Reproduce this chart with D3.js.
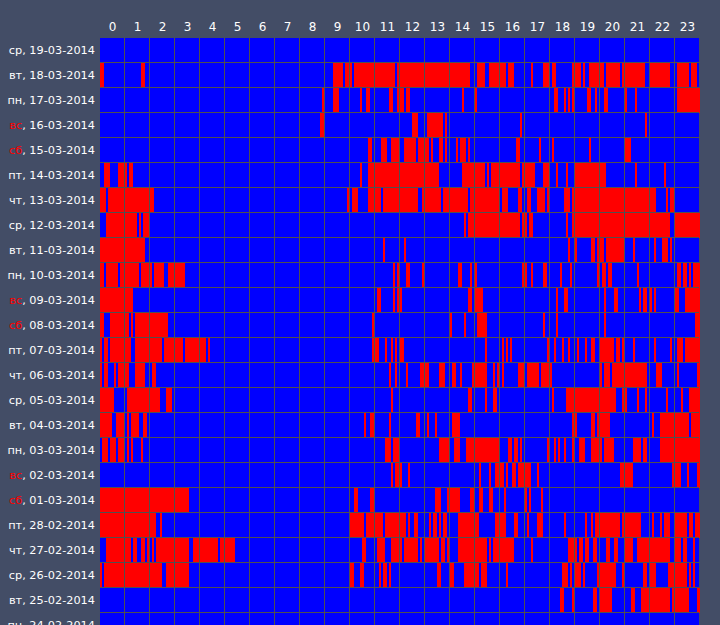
<!DOCTYPE html>
<html lang="ru">
<head>
<meta charset="utf-8">
<title>Activity</title>
<script src="https://cdn.jsdelivr.net/npm/d3@7/dist/d3.min.js"></script>
<style>
  html, body { margin: 0; padding: 0; background: #434d66; overflow: hidden; }
  text { fill: #fff; }
</style>
</head>
<body>
<script>
var hours = d3.range(24);

var weekdays = ["ср","вт","пн","вс","сб","пт","чт","ср","вт","пн","вс","сб","пт","чт","ср","вт","пн","вс","сб","пт","чт","ср","вт","пн"];
var dates = ["19-03-2014","18-03-2014","17-03-2014","16-03-2014","15-03-2014","14-03-2014","13-03-2014","12-03-2014","11-03-2014","10-03-2014","09-03-2014","08-03-2014","07-03-2014","06-03-2014","05-03-2014","04-03-2014","03-03-2014","02-03-2014","01-03-2014","28-02-2014","27-02-2014","26-02-2014","25-02-2014","24-02-2014"];

// red intervals per day, in 5 minute slots [from, to)
var d19 = [];
var d18 = [[0,2],[20,22],[112,117],[118,121],[122,142],[143,178],[181,185],[187,195],[196,199],[207,208],[213,216],[217,219],[227,231],[232,233],[235,242],[243,250],[251,262],[264,274],[277,283],[284,287]];
var d17 = [[107,108],[112,115],[125,126],[128,130],[139,141],[143,146],[147,149],[174,175],[180,181],[218,220],[223,224],[225,226],[227,228],[234,236],[238,239],[242,244],[252,253],[257,258],[277,288]];
var d16 = [[106,108],[150,153],[157,165],[166,167],[202,203],[262,263]];
var d15 = [[129,131],[135,138],[140,144],[146,152],[153,158],[159,160],[163,165],[166,167],[171,172],[173,176],[177,178],[200,202],[211,212],[217,218],[235,236],[252,255]];
var d14 = [[2,5],[9,13],[14,16],[125,126],[129,163],[174,185],[186,187],[188,202],[203,209],[213,216],[219,220],[224,225],[228,243],[257,258],[271,272]];
var d13 = [[0,3],[4,26],[119,120],[121,124],[129,135],[136,153],[155,164],[165,177],[178,192],[193,196],[201,203],[205,207],[210,214],[215,216],[223,226],[227,267],[272,273],[274,276]];
var d12 = [[3,18],[19,20],[21,24],[175,176],[177,202],[203,205],[206,208],[224,225],[227,274],[276,288]];
var d11 = [[0,22],[136,137],[146,147],[225,226],[228,229],[236,238],[239,242],[243,252],[256,257],[266,267],[270,273],[274,275]];
var d10 = [[0,2],[3,9],[10,19],[20,25],[26,31],[33,41],[141,142],[143,144],[147,149],[155,156],[172,174],[178,179],[180,181],[203,205],[207,208],[213,215],[221,222],[226,227],[239,240],[241,243],[244,246],[258,259],[277,279],[280,282],[283,284],[285,288]];
var d09 = [[0,16],[133,135],[141,142],[143,145],[177,179],[180,184],[219,220],[223,225],[242,243],[247,249],[259,260],[261,263],[264,265],[266,267],[276,278],[281,288]];
var d08 = [[0,2],[5,14],[15,16],[17,33],[131,132],[168,169],[175,176],[181,186],[213,214],[219,220],[242,243],[286,288]];
var d07 = [[0,1],[2,4],[5,15],[17,30],[31,40],[41,51],[52,53],[131,134],[137,138],[140,141],[142,143],[144,146],[185,186],[193,194],[195,196],[197,198],[215,216],[218,219],[222,223],[225,226],[229,230],[233,234],[236,238],[240,247],[248,250],[251,252],[256,257],[266,267],[274,275],[277,280],[281,288]];
var d06 = [[0,1],[2,4],[7,8],[9,14],[17,22],[25,27],[139,140],[142,143],[147,148],[154,158],[163,166],[169,171],[173,174],[179,186],[189,190],[191,192],[193,194],[201,204],[205,211],[212,217],[240,241],[242,245],[246,263],[267,270],[277,278],[287,288]];
var d05 = [[0,7],[13,29],[32,35],[140,141],[177,179],[185,186],[189,191],[217,218],[224,248],[251,253],[258,259],[262,263],[272,273],[279,280],[283,288]];
var d04 = [[0,6],[8,12],[13,14],[15,19],[21,23],[127,128],[130,132],[139,140],[152,154],[157,158],[161,162],[169,173],[227,229],[236,238],[239,245],[265,266],[269,276],[276,283],[284,288]];
var d03 = [[1,4],[5,8],[9,12],[13,14],[15,16],[20,21],[137,140],[141,144],[163,168],[170,173],[176,192],[196,198],[199,201],[202,203],[215,216],[218,219],[220,221],[223,224],[227,228],[230,233],[236,241],[242,247],[256,260],[261,263],[269,288]];
var d02 = [[140,141],[142,145],[148,149],[182,183],[187,188],[190,194],[195,196],[198,200],[201,207],[210,211],[250,256],[275,279],[282,283],[287,288]];
var d01 = [[0,43],[122,124],[130,132],[161,164],[167,173],[178,180],[182,184],[187,189],[194,195],[204,205],[206,207],[212,213]];
var f28 = [[0,27],[29,30],[120,127],[128,136],[137,147],[148,149],[151,153],[158,159],[160,162],[163,164],[165,167],[172,182],[190,195],[199,201],[205,206],[210,213],[223,224],[233,234],[236,237],[238,250],[251,260],[265,266],[269,270],[271,274],[276,282],[283,285],[286,288]];
var f27 = [[3,15],[16,18],[20,22],[23,24],[25,26],[27,43],[45,57],[58,65],[126,128],[133,137],[140,145],[146,153],[154,155],[156,163],[164,166],[167,168],[172,186],[187,188],[189,199],[207,208],[225,229],[230,232],[233,235],[237,239],[243,245],[247,249],[252,256],[258,274],[276,279],[280,282],[285,286]];
var f26 = [[0,1],[2,30],[32,43],[120,122],[125,127],[134,135],[136,138],[139,140],[162,164],[168,170],[175,182],[183,186],[195,196],[222,225],[226,227],[228,231],[232,233],[239,248],[251,252],[261,263],[264,267],[273,282],[283,284],[285,286]];
var f25 = [[221,223],[227,228],[237,239],[240,246],[255,257],[260,274],[275,283],[287,288]];
var f24 = [];

var busy = [d19,d18,d17,d16,d15,d14,d13,d12,d11,d10,d09,d08,d07,d06,d05,d04,d03,d02,d01,f28,f27,f26,f25,f24];

var width = 720, height = 625;
var left = 100, top_ = 38, colW = 25, rowH = 25;

var x = d3.scaleLinear().domain([0, 288]).range([left, left + colW * 24]);
var hourBand = d3.scaleBand().domain(hours).range([left, left + colW * 24]);
var y = d3.scaleBand().domain(dates).range([top_, top_ + rowH * dates.length]);

var svg = d3.select("body").append("svg")
    .attr("width", width)
    .attr("height", height)
    .style("display", "block");

// blue day strips
svg.append("g").selectAll("rect")
    .data(dates)
    .enter().append("rect")
    .attr("x", left)
    .attr("y", function(d) { return y(d); })
    .attr("width", colW * 24 - 1)
    .attr("height", rowH)
    .attr("fill", "#0000ff");

// red intervals
var rows = svg.append("g").attr("shape-rendering", "crispEdges").selectAll("g")
    .data(dates)
    .enter().append("g")
    .attr("transform", function(d) { return "translate(0," + y(d) + ")"; });

rows.selectAll("rect")
    .data(function(d, i) { return busy[i]; })
    .enter().append("rect")
    .attr("x", function(d) { return Math.floor(x(d[0])); })
    .attr("width", function(d) { return Math.floor(x(d[1])) - Math.floor(x(d[0])); })
    .attr("height", rowH)
    .attr("fill", "#ff0000");

// grid on top of the marks
var grid = svg.append("g").attr("stroke", "#505050").attr("stroke-width", 1).attr("shape-rendering", "crispEdges");
grid.selectAll(".v")
    .data(hours.slice(1))
    .enter().append("line")
    .attr("x1", function(h) { return hourBand(h) - 0.5; })
    .attr("x2", function(h) { return hourBand(h) - 0.5; })
    .attr("y1", top_)
    .attr("y2", height);
grid.selectAll(".h")
    .data(dates)
    .enter().append("line")
    .attr("x1", left)
    .attr("x2", left + colW * 24 - 1)
    .attr("y1", function(d) { return y(d) + rowH - 0.5; })
    .attr("y2", function(d) { return y(d) + rowH - 0.5; });

// axes
var xAxis = svg.append("g")
    .attr("transform", "translate(0," + (top_ - 7.5) + ")")
    .call(d3.axisTop(hourBand).tickSize(0).tickPadding(0));
xAxis.select(".domain").remove();

var yAxis = svg.append("g")
    .attr("transform", "translate(" + (left - 5) + ",0)")
    .call(d3.axisLeft(y).tickSize(0).tickPadding(0));
yAxis.select(".domain").remove();

yAxis.selectAll("text").each(function(d, i) {
  var t = d3.select(this).text(null);
  var wd = weekdays[i];
  t.append("tspan")
    .style("fill", (wd == "сб" || wd == "вс") ? "#ff0000" : "#ffffff")
    .text(wd);
  t.append("tspan").text(", " + d);
});
svg.selectAll("g").attr("font-family", null).attr("font-size", null);
xAxis.selectAll("text").style("font-family", '"DejaVu Sans", sans-serif').style("font-size", "12px");
yAxis.selectAll("text").style("font-family", '"DejaVu Sans", sans-serif').style("font-size", "11.3px");
</script>
</body>
</html>
